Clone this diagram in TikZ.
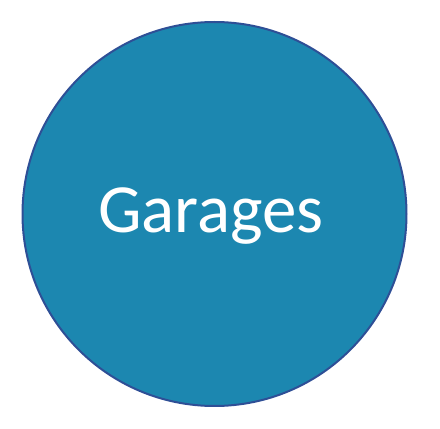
\documentclass[tikz,border=0pt]{standalone}
\usepackage{fontspec}
\setmainfont{Carlito}
\definecolor{circfill}{HTML}{1C87B0}
\definecolor{circline}{HTML}{2E4F96}
\begin{document}
\begin{tikzpicture}[x=1pt,y=1pt,
  bubble/.style={circle, draw=circline, line width=2pt, fill=circfill, minimum size=384pt, inner sep=0pt},
  label/.style={text=white, font=\fontsize{69}{69}\selectfont, anchor=base, inner sep=0pt}]
\useasboundingbox (0,0) rectangle (440,429);
\node[bubble] (c) at (214.5,215) {};
\node[label] (t) at (211,196) {Garages};
\end{tikzpicture}
\end{document}
